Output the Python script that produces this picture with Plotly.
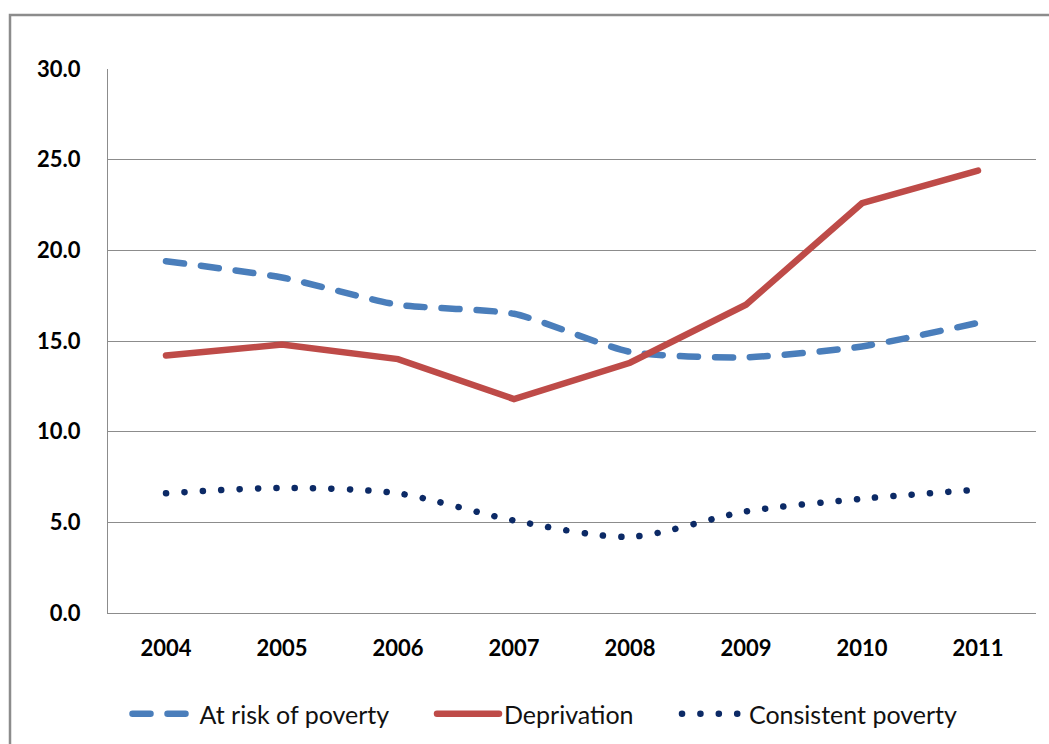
import plotly.graph_objects as go

years = ["2004", "2005", "2006", "2007", "2008", "2009", "2010", "2011"]
at_risk = [19.4, 18.5, 17.0, 16.5, 14.4, 14.1, 14.7, 16.0]
deprivation = [14.2, 14.8, 14.0, 11.8, 13.8, 17.0, 22.6, 24.4]
consistent = [6.6, 6.9, 6.6, 5.1, 4.2, 5.6, 6.3, 6.8]

series_names = ["At risk of poverty", "Deprivation", "Consistent poverty"]

y_ticks = [0, 5, 10, 15, 20, 25, 30]
y_tick_labels = ["0.0", "5.0", "10.0", "15.0", "20.0", "25.0", "30.0"]

BLUE = "#4a7ebb"
RED = "#be4b48"
NAVY = "#0c2a66"
GRID = "#8c8c8c"
FONT = "Lato, 'Open Sans', sans-serif"

W, H = 1049, 744
L, R, T, B = 108, 13, 69, 131

# trailing no-break spaces keep legend entries apart
PAD = "\u00a0" * 6

fig = go.Figure()
fig.add_trace(go.Scatter(
    x=years, y=at_risk, name=series_names[0] + PAD, mode="lines",
    line=dict(color=BLUE, width=6.5, dash="18px,17px", shape="spline", smoothing=0.6),
))
fig.add_trace(go.Scatter(
    x=years, y=deprivation, name=series_names[1] + PAD, mode="lines",
    line=dict(color=RED, width=6.5),
))
fig.add_trace(go.Scatter(
    x=years, y=consistent, name=series_names[2], mode="lines",
    line=dict(color=NAVY, width=6.5, dash="0.1px,18.3px", shape="spline", smoothing=0.8),
))

pw = W - L - R
ph = H - T - B
# outer chart frame, running off the right and bottom edges of the page
fig.add_shape(
    type="rect", xref="paper", yref="paper",
    x0=(10 - L) / pw, x1=(W + 5 - L) / pw,
    y0=-(H + 5 - T - ph) / ph, y1=(H - B - 15) / ph,
    line=dict(color=GRID, width=2.5), fillcolor="rgba(0,0,0,0)", layer="below",
)

fig.update_layout(
    width=W, height=H,
    margin=dict(l=L, r=R, t=T, b=B, pad=0, autoexpand=False),
    paper_bgcolor="white", plot_bgcolor="white",
    font=dict(family=FONT, color="#000000"),
    showlegend=True,
    legend=dict(
        orientation="h", xref="container", yref="container",
        x=545 / W, xanchor="center", y=1 - 714 / H, yanchor="middle",
        font=dict(size=25, family=FONT, color="#111111"),
        itemwidth=62, traceorder="normal", bgcolor="rgba(0,0,0,0)",
    ),
    xaxis=dict(
        type="category", showgrid=False, showline=True, linecolor=GRID, linewidth=1.3,
        ticks="", tickfont=dict(size=22, family=FONT, weight="bold"), ticklabelstandoff=15,
        range=[-0.5, 7.5], fixedrange=True, automargin=False,
    ),
    yaxis=dict(
        range=[0, 30], tickvals=y_ticks, ticktext=y_tick_labels,
        showgrid=True, gridcolor=GRID, gridwidth=1.3,
        showline=True, linecolor=GRID, linewidth=1.3, zeroline=False,
        ticks="", tickfont=dict(size=22, family=FONT, weight="bold"), ticklabelstandoff=22,
        fixedrange=True, automargin=False,
    ),
)

# rounded line ends give the dotted and dashed series soft caps
round_caps = (
    "var s=document.createElement('style');"
    "s.textContent='.js-line,.legendlines path{stroke-linecap:round}';"
    "document.head.appendChild(s);"
)
fig.write_html("out.html", post_script=round_caps, config={"displayModeBar": False})
